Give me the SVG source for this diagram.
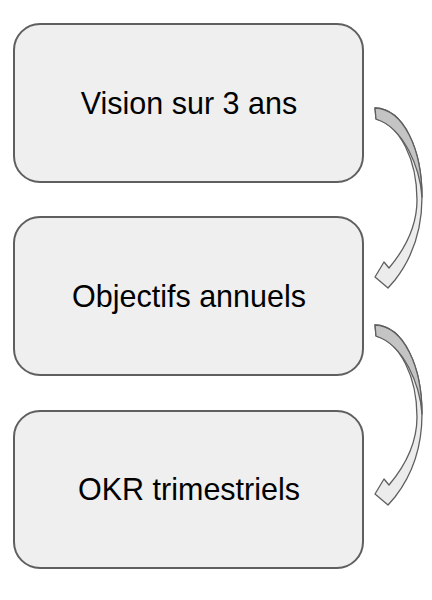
<svg xmlns="http://www.w3.org/2000/svg" width="432" height="600" viewBox="0 0 432 600">
<defs>
<style>
.box{fill:#efefef;stroke:#5f5f5f;stroke-width:2}
.lbl{font-family:"Liberation Sans",Arial,sans-serif;font-size:30.5px;fill:#000;text-anchor:middle}
.arr{fill:#ececec;stroke:#5f5f5f;stroke-width:1.3;stroke-linejoin:round}
.arrd{fill:#c4c4c4;stroke:#5f5f5f;stroke-width:1.3;stroke-linejoin:round}
</style>
<g id="curved-arrow">
<path class="arr" d="M375,108 C404,109 422,150 422,197 C422,235 409,262 395,280 L388,288 L375,277 L384,262 L389,268 C405,249 417,225 417,200 C417,160 400,125 376,119 Z"/>
<path class="arrd" d="M375,108 C404,109 422,150 422,197 C420,168 404,128 376,119 Z"/>
</g>
</defs>
<g id="connectors">
<use href="#curved-arrow"/>
<use href="#curved-arrow" transform="translate(0,217)"/>
</g>
<g id="node-vision">
<rect class="box" x="14" y="24" width="349" height="158" rx="26"/>
<text class="lbl" x="189" y="114">Vision sur 3 ans</text>
</g>
<g id="node-objectifs">
<rect class="box" x="14" y="217" width="349" height="158" rx="26"/>
<text class="lbl" x="189" y="307">Objectifs annuels</text>
</g>
<g id="node-okr">
<rect class="box" x="14" y="411" width="349" height="157" rx="26"/>
<text class="lbl" x="189" y="500">OKR trimestriels</text>
</g>
</svg>
